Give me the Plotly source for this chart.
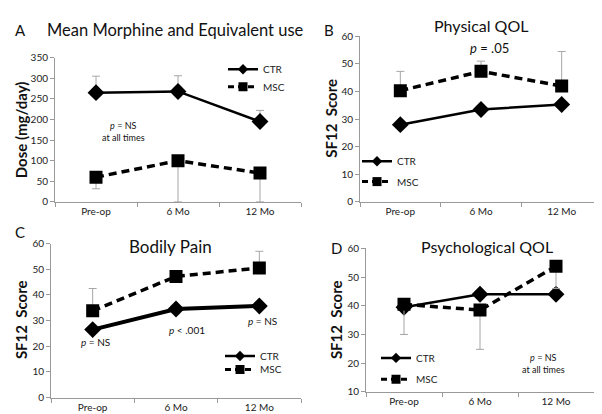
import plotly.graph_objects as go

W, H = 602, 414
categories = ["Pre-op", "6 Mo", "12 Mo"]

# Panel A: Mean Morphine and Equivalent use
a_ctr = [265, 268, 195]
a_ctr_err_up = [40, 38, 27]
a_msc = [60, 100, 70]
a_msc_err_down = [28, 100, 70]

# Panel B: Physical QOL
b_ctr = [28.0, 33.5, 35.3]
b_msc = [40.3, 47.3, 42.0]
b_msc_err_up = [7.0, 3.7, 12.5]

# Panel C: Bodily Pain
c_ctr = [26.5, 34.5, 35.7]
c_msc = [33.8, 47.2, 50.5]
c_msc_err_up = [8.7, 0, 6.5]

# Panel D: Psychological QOL
d_ctr = [39.5, 44.0, 44.0]
d_msc = [40.5, 38.5, 53.8]
d_msc_err_down = [10.5, 13.7, 7.8]

FONT = "Lato"
ERR = "#a6a6a6"
AXC = "#9a9a9a"
MSC_DASH = "8px,5px"


def px_x(p):
    return p / W


def px_y(p):
    return 1 - p / H


fig = go.Figure()

panels = [
    dict(s="", x=(47, 293), y=(44, 193), yr=[0, 350], dt=50,
         ctr=a_ctr, msc=a_msc,
         ctr_err=dict(type="data", symmetric=False, array=a_ctr_err_up, arrayminus=[0, 0, 0]),
         msc_err=dict(type="data", symmetric=False, array=[0, 0, 0], arrayminus=a_msc_err_down),
         leg=("legend", "legend2"), legpos=(227, 56, 74), ctrw=2.5),
    dict(s="2", x=(352, 594), y=(22, 193), yr=[0, 60], dt=10,
         ctr=b_ctr, msc=b_msc, ctr_err=None,
         msc_err=dict(type="data", symmetric=False, array=b_msc_err_up, arrayminus=[0, 0, 0]),
         leg=("legend3", "legend4"), legpos=(361, 151, 172), ctrw=2.5),
    dict(s="3", x=(43, 293), y=(236, 395), yr=[0, 60], dt=10,
         ctr=c_ctr, msc=c_msc, ctr_err=None,
         msc_err=dict(type="data", symmetric=False, array=c_msc_err_up, arrayminus=[0, 0, 0]),
         leg=("legend5", "legend6"), legpos=(224, 352, 366), ctrw=4),
    dict(s="4", x=(358, 586), y=(241, 389), yr=[10, 60], dt=10,
         ctr=d_ctr, msc=d_msc, ctr_err=None,
         msc_err=dict(type="data", symmetric=False, array=[0, 0, 0], arrayminus=d_msc_err_down),
         leg=("legend7", "legend8"), legpos=(380, 354, 376), ctrw=2.5),
]

leg_common = dict(
    xanchor="left", yanchor="middle", bgcolor="rgba(0,0,0,0)",
    font=dict(family=FONT, size=10, color="#222"), itemwidth=30,
    tracegroupgap=0,
)
legend_layout = {}

for p in panels:
    s = p["s"]
    lx, ly_ctr, ly_msc = p["legpos"]
    for i, (name, vals, err, dash, sym, lw) in enumerate([
        ("CTR", p["ctr"], p["ctr_err"], "solid", "diamond", p["ctrw"]),
        ("MSC", p["msc"], p["msc_err"], MSC_DASH, "square", 3.5),
    ]):
        e = None
        if err is not None:
            e = dict(err, color=ERR, thickness=1, width=4)
        fig.add_trace(go.Scatter(
            x=categories, y=vals, name=name, mode="lines+markers",
            line=dict(color="black", width=lw, dash=dash),
            marker=dict(symbol=sym, size=13, color="black"),
            error_y=e, xaxis="x" + s, yaxis="y" + s, showlegend=False,
        ))
        leg = p["leg"][i]
        fig.add_trace(go.Scatter(
            x=[None], y=[None], name=name, mode="lines+markers",
            line=dict(color="black", width=2.5 if name == "CTR" else 3,
                      dash="solid" if name == "CTR" else "6px,4px"),
            marker=dict(symbol=sym, size=8 if name == "CTR" else 9, color="black"),
            xaxis="x" + s, yaxis="y" + s, legend=leg, showlegend=True,
        ))
        legend_layout[leg] = dict(leg_common, x=px_x(lx - 12),
                                  y=px_y(ly_ctr if name == "CTR" else ly_msc))
    ax = dict(
        domain=[px_x(p["x"][0]), px_x(p["x"][1])],
        anchor="y" + s, type="category", range=[-0.5, 2.5],
        showgrid=False, showline=True, linecolor=AXC, linewidth=1,
        ticks="outside", tickson="boundaries", ticklen=4, tickcolor=AXC,
        tickfont=dict(family=FONT, size=10, color="#222"), zeroline=False,
    )
    ay = dict(
        domain=[px_y(p["y"][1]), px_y(p["y"][0])],
        anchor="x" + s, range=p["yr"], dtick=p["dt"],
        showgrid=False, showline=True, linecolor=AXC, linewidth=1,
        ticks="outside", ticklen=4, tickcolor=AXC,
        tickfont=dict(family=FONT, size=10, color="#222"), zeroline=False,
    )
    fig.update_layout(**{"xaxis" + s: ax, "yaxis" + s: ay})

fig.update_layout(**legend_layout)

ann = []


def text(x, y, t, size, bold=False, angle=0, anchor="center"):
    ann.append(dict(
        x=px_x(x), y=px_y(y), xref="paper", yref="paper", text=t, showarrow=False,
        font=dict(family=FONT, size=size, color="#111"), textangle=angle,
        xanchor=anchor, yanchor="middle",
    ))


text(5, 15, "A", 15, anchor="left")
text(167, 15, "Mean Morphine and Equivalent use", 16.5)
text(314, 15, "B", 15, anchor="left")
text(473, 11, "Physical QOL", 16)
text(5, 224, "C", 15, anchor="left")
text(162, 239, "Bodily Pain", 17)
text(321, 241, "D", 15, anchor="left")
text(479, 239, "Psychological QOL", 16)

text(13, 119, "<b>Dose (mg/day)</b>", 15, angle=-90)
text(323, 107, "<b>SF12  Score</b>", 15, angle=-90)
text(13, 315, "<b>SF12  Score</b>", 15, angle=-90)
text(328, 315, "<b>SF12  Score</b>", 15, angle=-90)

text(115, 120, "<i>p</i> = NS<br>at all times", 9)
text(481, 34, "<i>p</i> = .05", 13)
text(87, 338, "<i>p</i> = NS", 10)
text(179, 325, "<i>p</i> < .001", 10)
text(254, 316, "<i>p</i> = NS", 10)
text(535, 360, "<i>p</i> = NS<br>at all times", 9)

fig.update_layout(
    annotations=ann, width=W, height=H,
    margin=dict(l=0, r=0, t=0, b=0),
    paper_bgcolor="white", plot_bgcolor="white",
    font=dict(family=FONT),
)

fig.write_html("out.html")
